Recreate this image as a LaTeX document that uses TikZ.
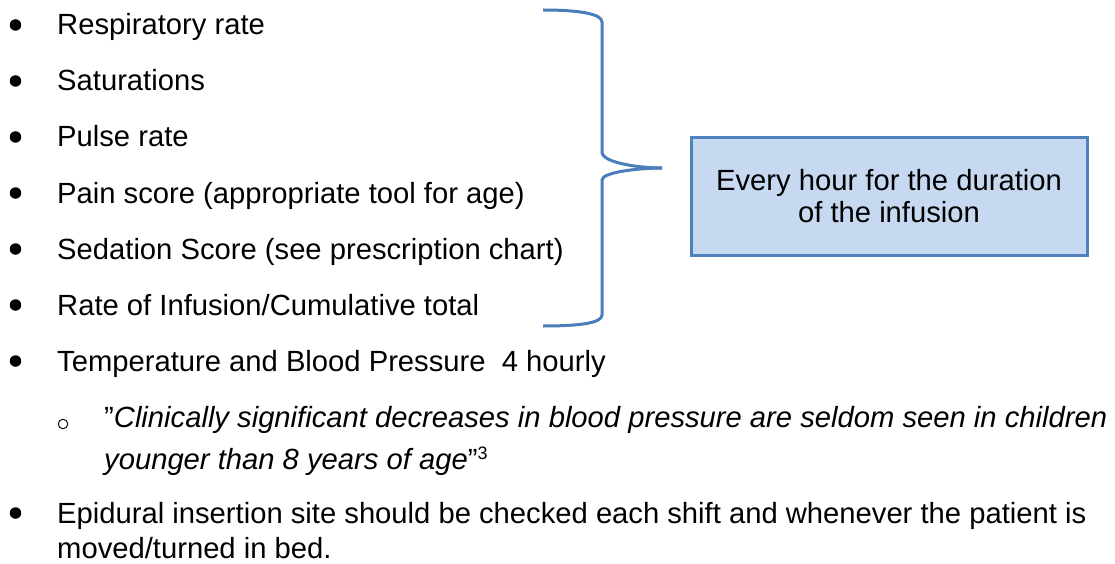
\documentclass[tikz,border=0pt]{standalone}
\usepackage{fontspec}
\setmainfont{Liberation Sans}
\definecolor{bracecol}{RGB}{74,126,187}
\definecolor{boxfill}{RGB}{198,217,241}
\definecolor{boxline}{RGB}{79,129,189}
\begin{document}
\begin{tikzpicture}[x=1pt,y=-1pt,
  txt/.style={anchor=base west,inner sep=0pt,font=\fontsize{29.2}{35}\selectfont},
  dot/.style={circle,fill=black,inner sep=0pt,minimum size=11.5pt},
  subdot/.style={circle,draw=black,line width=0.9pt,inner sep=0pt,minimum size=9.5pt},
  infobox/.style={draw=boxline,fill=boxfill,line width=3pt,minimum width=396pt,minimum height=117pt,align=center,font=\fontsize{29.2}{32}\selectfont},
  bracestyle/.style={draw=bracecol,line width=3pt}]
\useasboundingbox (0,0) rectangle (1115,564);
% bullet items
\foreach \y/\t [count=\i] in {35/{Respiratory rate},91/{Saturations},147/{Pulse rate},203/{Pain score (appropriate tool for age)},259/{Sedation Score (see prescription chart)},315/{Rate of Infusion/Cumulative total},371/{Temperature and Blood Pressure\ \ 4 hourly}}{
  \node[dot] (b\i) at (15.5,\y-10) {};
  \node[txt] (t\i) at (57,\y) {\t};
}
\node[subdot] (sb) at (63,424) {};
\node[txt] (q1) at (104,427) {”\textit{Clinically significant decreases in blood pressure are seldom seen in children}};
\node[txt] (q2) at (104,469) {\textit{younger than 8 years of age}”\textsuperscript{\fontsize{18}{18}\selectfont 3}};
\node[dot] (b8) at (15.5,523-10) {};
\node[txt] (e1) at (57,523) {Epidural insertion site should be checked each shift and whenever the patient is};
\node[txt] (e2) at (57,558) {moved/turned in bed.};
% brace
\draw[bracestyle] (543,10) .. controls (580,10) and (602,14) .. (602,22)
  -- (602,152) .. controls (602,163) and (640,168) .. (662,168);
\draw[bracestyle] (662,168) .. controls (640,168) and (602,172) .. (602,180)
  -- (602,315) .. controls (602,323) and (580,326) .. (543,326);
\coordinate (tip) at (662,168);
% box
\node[infobox] (box) at (889,196.5) {Every hour for the duration\\of the infusion};
\end{tikzpicture}
\end{document}
